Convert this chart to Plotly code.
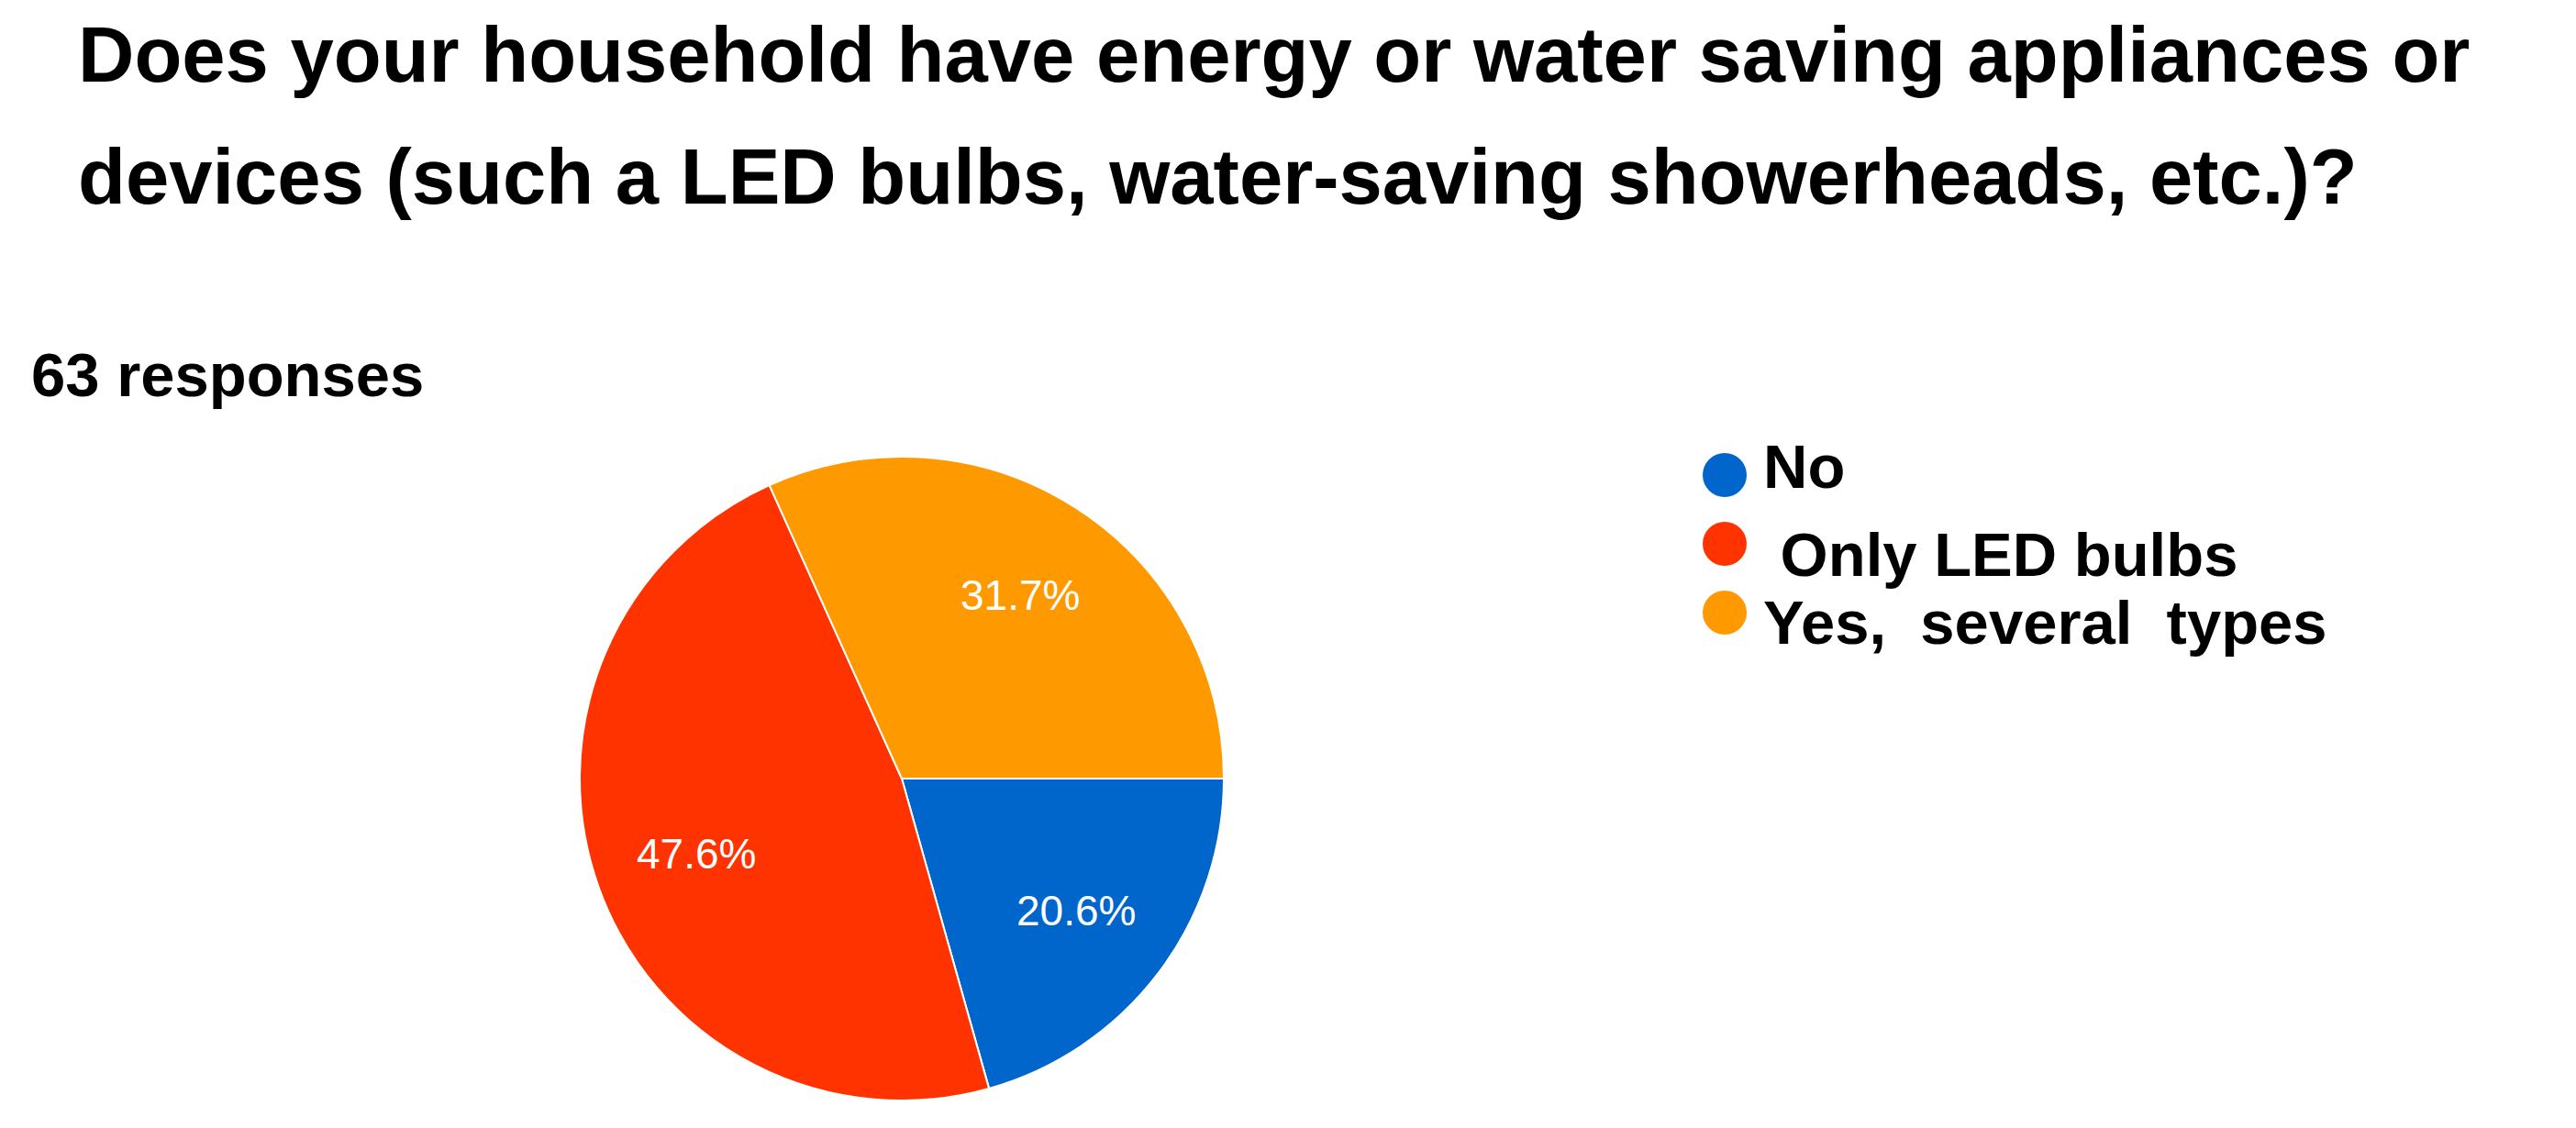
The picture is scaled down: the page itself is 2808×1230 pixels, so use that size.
import math
import plotly.graph_objects as go

# ---- data ----
categories = ["No", "Only LED bulbs", "Yes, several types"]
counts = [13, 30, 20]  # 63 responses -> 20.6%, 47.6%, 31.7%
colors = ["#0066CC", "#FF3300", "#FF9900"]
legend_labels = ["No", "\u00a0Only LED bulbs", "Yes,\u00a0\u00a0several\u00a0\u00a0types"]
title_lines = [
    "Does your household have energy or water saving appliances or",
    "devices (such a LED bulbs, water-saving showerheads, etc.)?",
]
subtitle = "63 responses"

W, H = 2808, 1230
FONT = "Liberation Sans, Arial, sans-serif"

def py(px):
    return 1 - px / H

# pie geometry (pixels)
cx, cy, r = 975, 841, 351
start_deg = 90  # first slice starts at 3 o'clock, going clockwise

fig = go.Figure()
fig.add_trace(go.Pie(
    labels=categories,
    values=counts,
    sort=False,
    direction="clockwise",
    rotation=start_deg,
    marker=dict(colors=colors, line=dict(color="white", width=2)),
    textinfo="none",
    showlegend=False,
    hoverinfo="label+percent",
    domain=dict(x=[(cx - r) / W, (cx + r) / W], y=[(H - cy - r) / H, (H - cy + r) / H]),
))

# legend markers through a hidden axis
fig.add_trace(go.Scatter(
    x=[0] * len(categories),
    y=categories,
    mode="markers",
    marker=dict(size=48, color=colors, line=dict(width=0)),
    xaxis="x2", yaxis="y2",
    showlegend=False,
    hoverinfo="skip",
))

annotations = []

# slice percentage labels, placed along each slice's mid-angle
total = sum(counts)
cum = 0
for v in counts:
    mid = math.radians(start_deg + 360 * (cum + v / 2) / total)
    cum += v
    lx = cx + 0.68 * r * math.sin(mid)
    ly = cy - 0.68 * r * math.cos(mid)
    annotations.append(dict(
        text=f"{v / total * 100:.1f}%", x=lx / W, y=py(ly), xref="paper", yref="paper",
        xanchor="center", yanchor="middle", showarrow=False,
        font=dict(family=FONT, size=46, color="white"),
    ))

title_centers = [52, 184]
for t, yc in zip(title_lines, title_centers):
    annotations.append(dict(
        text=f"<b>{t}</b>", x=75 / W, y=py(yc), xref="paper", yref="paper",
        xanchor="left", yanchor="middle", showarrow=False,
        font=dict(family=FONT, size=85, color="black"),
    ))
annotations.append(dict(
    text=f"<b>{subtitle}</b>", x=24 / W, y=py(400), xref="paper", yref="paper",
    xanchor="left", yanchor="middle", showarrow=False,
    font=dict(family=FONT, size=67, color="black"),
))
legend_text_y = [501, 596, 670]
for lab, yc in zip(legend_labels, legend_text_y):
    annotations.append(dict(
        text=f"<b>{lab}</b>", x=1912 / W, y=py(yc), xref="paper", yref="paper",
        xanchor="left", yanchor="middle", showarrow=False,
        font=dict(family=FONT, size=67, color="black"),
    ))

fig.update_layout(
    width=W, height=H,
    margin=dict(l=0, r=0, t=0, b=0),
    paper_bgcolor="white", plot_bgcolor="white",
    annotations=annotations,
    xaxis=dict(visible=False),
    yaxis=dict(visible=False),
    xaxis2=dict(domain=[1848 / W, 1896 / W], range=[-1, 1], visible=False, anchor="y2"),
    yaxis2=dict(domain=[py(697.5), py(472.5)], range=[2.5, -0.5], visible=False, anchor="x2",
                type="category", categoryorder="array", categoryarray=categories),
)

fig.write_html("out.html")
